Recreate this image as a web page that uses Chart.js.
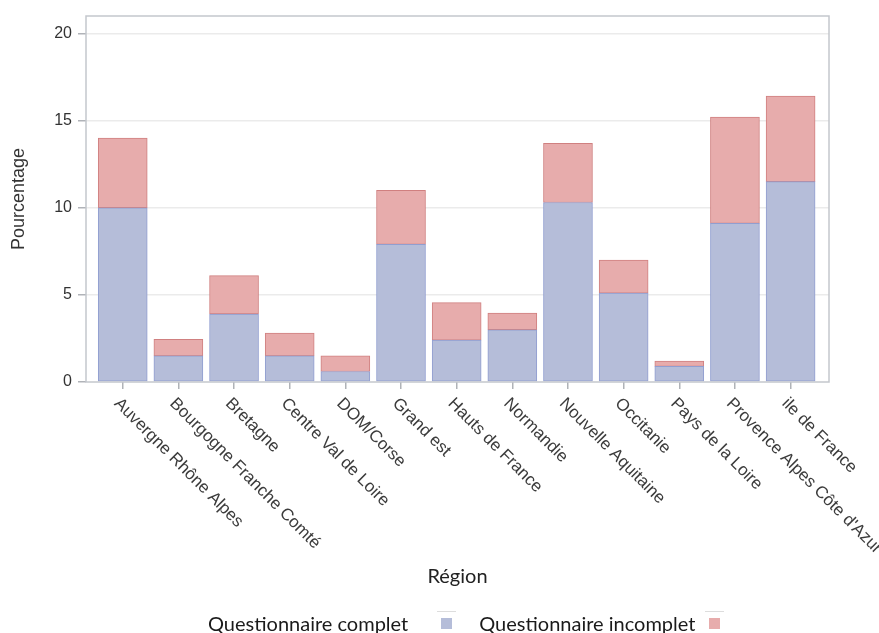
<!DOCTYPE html>
<html lang="fr">
<head>
  <meta charset="UTF-8" />
  <title>Pourcentage par région</title>
  <script src="https://cdn.jsdelivr.net/npm/chart.js"></script>
  <style>
    body {
      margin: 0;
      background: #fff;
    }
    .wrap {
      position: relative;
      width: 879px;
      height: 633px;
      overflow: hidden;
    }
    .legend {
      position: absolute;
      left: 208px;
      top: 611px;
      display: flex;
      align-items: center;
      font-family: 'Lato', sans-serif;
      font-size: 20px;
      line-height: 24px;
      color: #1a1a1a;
      white-space: nowrap;
    }
    .legend .sw {
      display: inline-block;
      width: 11px;
      height: 11px;
      margin: 0 27px 0 33px;
      position: relative;
    }
    .legend .sw::before {
      content: '';
      position: absolute;
      left: -4px;
      right: -4px;
      top: -7px;
      border-top: 1px solid #ddd;
    }
  </style>
</head>
<body>
  <div class="wrap">
    <canvas id="chart" width="879" height="633"></canvas>
    <div class="legend" id="legend"></div>
  </div>

  <script>
    const regions = [
      'Auvergne Rhône Alpes', 'Bourgogne Franche Comté', 'Bretagne', 'Centre Val de Loire',
      'DOM/Corse', 'Grand est', 'Hauts de France', 'Normandie', 'Nouvelle Aquitaine',
      'Occitanie', 'Pays de la Loire', 'Provence Alpes Côte d\'Azur', 'ile de France'
    ];
    const complet   = [10.0, 1.5, 3.9, 1.5, 0.6, 7.9, 2.4, 3.0, 10.3, 5.1, 0.9, 9.1, 11.5];
    const incomplet = [4.0, 0.95, 2.2, 1.3, 0.9, 3.1, 2.15, 0.95, 3.4, 1.9, 0.3, 6.1, 4.9];
    const seriesNames = ['Questionnaire complet', 'Questionnaire incomplet'];
    const yTicks = [0, 5, 10, 15, 20];

    const axisFont = 'Arial, "Liberation Sans", sans-serif';
    const blueFill = '#b5bdd9', blueLine = '#919ed0';
    const redFill = '#e7acac', redLine = '#d08080';

    // cadre autour de la zone de tracé
    const framePlugin = {
      id: 'frame',
      afterDatasetsDraw(chart) {
        const a = chart.chartArea, ctx = chart.ctx;
        ctx.save();
        ctx.strokeStyle = '#c4c7cd';
        ctx.lineWidth = 1.5;
        ctx.strokeRect(a.left, a.top, a.right - a.left, a.bottom - a.top);
        ctx.restore();
      }
    };

    // libellés de l'axe x, tournés de 45° vers le bas
    const xLabelPlugin = {
      id: 'xLabels',
      afterDraw(chart) {
        const sc = chart.scales.x, ctx = chart.ctx;
        ctx.save();
        ctx.font = '17px ' + axisFont;
        ctx.fillStyle = '#3c3c3c';
        ctx.textAlign = 'left';
        ctx.textBaseline = 'middle';
        regions.forEach((r, i) => {
          const x = sc.getPixelForValue(i);
          ctx.save();
          ctx.translate(x - 6, sc.top + 19);
          ctx.rotate(Math.PI / 4);
          ctx.fillText(r, 0, 0);
          ctx.restore();
        });
        ctx.restore();
      }
    };

    new Chart(document.getElementById('chart'), {
      type: 'bar',
      data: {
        datasets: [
          {
            label: seriesNames[0],
            data: complet.map((v, i) => ({ x: i, y: v })),
            backgroundColor: blueFill, borderColor: blueLine,
            borderWidth: 1, borderSkipped: false
          },
          {
            label: seriesNames[1],
            data: incomplet.map((v, i) => ({ x: i, y: v })),
            backgroundColor: redFill, borderColor: redLine,
            borderWidth: 1, borderSkipped: false
          }
        ]
      },
      options: {
        responsive: false,
        animation: false,
        barThickness: 49,
        layout: { padding: { left: 3, right: 50, top: 16, bottom: 44 } },
        plugins: { legend: { display: false }, tooltip: { enabled: false } },
        scales: {
          x: {
            type: 'linear',
            stacked: true,
            offset: false,
            min: -0.66,
            max: 12.69,
            afterBuildTicks: s => { s.ticks = regions.map((_, i) => ({ value: i })); },
            afterFit: s => { s.height = 207; },
            ticks: { display: false },
            grid: {
              offset: false, drawOnChartArea: false, drawTicks: true,
              tickLength: 7, tickColor: '#b0b3b8', lineWidth: 1.5
            },
            border: { display: false },
            title: {
              display: true, text: 'Région', color: '#222',
              font: { family: 'Lato', size: 20 }, padding: 0
            }
          },
          y: {
            stacked: true,
            min: 0,
            max: 21,
            afterBuildTicks: s => { s.ticks = yTicks.map(v => ({ value: v })); },
            afterFit: s => { s.width = 83; },
            ticks: { color: '#333', padding: 6, font: { family: axisFont, size: 16 } },
            grid: {
              color: c => c.tick && c.tick.value === 0 ? 'rgba(0,0,0,0)' : '#ebebeb',
              lineWidth: 1.5, tickLength: 8, tickColor: '#b0b3b8'
            },
            border: { display: false },
            title: {
              display: true, text: 'Pourcentage', color: '#333',
              font: { family: axisFont, size: 18 }, padding: 5
            }
          }
        }
      },
      plugins: [framePlugin, xLabelPlugin]
    });

    document.getElementById('legend').innerHTML =
      `<span>${seriesNames[0]}</span><span class="sw" style="background:${blueFill}"></span>` +
      `<span>${seriesNames[1]}</span><span class="sw" style="background:${redFill};margin-right:0;margin-left:14px"></span>`;
  </script>
</body>
</html>
